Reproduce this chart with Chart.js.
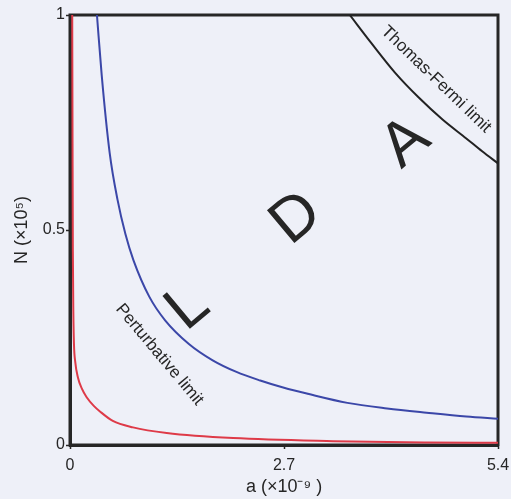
<!DOCTYPE html>
<html>
<head>
<meta charset="utf-8">
<script src="https://cdn.jsdelivr.net/npm/chart.js@4.4.1/dist/chart.umd.min.js"></script>
<style>
  html, body { margin: 0; padding: 0; background: #eef0f8; }
  #regimes { display: block; }
</style>
</head>
<body>
<canvas id="regimes" width="511" height="499"></canvas>
<script>
// a (x10^-9) vs N (x10^5) for the three limiting curves
const perturbA = [0.028, 0.032, 0.036, 0.042, 0.050, 0.065, 0.10, 0.15, 0.21, 0.30, 0.378, 0.54, 0.795, 1.22, 2.06, 3.32, 4.5, 5.4];
const perturbN = [1.00, 0.70, 0.45, 0.31, 0.235, 0.195, 0.157, 0.131, 0.111, 0.091, 0.078, 0.056, 0.041, 0.028, 0.016, 0.009, 0.006, 0.005];

const ldaA = [0.34, 0.40, 0.50, 0.60, 0.70, 0.80, 1.00, 1.20, 1.50, 1.80, 2.10, 2.40, 2.70, 3.00, 3.50, 4.00, 4.50, 5.00, 5.40];
const ldaN = [1.00, 0.86, 0.68, 0.57, 0.49, 0.43, 0.345, 0.29, 0.235, 0.197, 0.17, 0.150, 0.133, 0.119, 0.098, 0.085, 0.075, 0.066, 0.061];

const tfA = [3.53, 3.80, 4.10, 4.40, 4.70, 5.00, 5.20, 5.40];
const tfN = [1.00, 0.935, 0.866, 0.808, 0.757, 0.713, 0.683, 0.655];

const xTicks = [0, 2.7, 5.4];
const yTicks = [0, 0.5, 1];
const xTickLabels = ["0", "2.7", "5.4"];
const yTickLabels = ["0", "0.5", "1"];

const INK = "#262626";
const FONT = "'Liberation Sans', Arial, Helvetica, sans-serif";

const toPoints = (xs, ys) => xs.map((x, i) => ({ x, y: ys[i] }));

const curve = (data, color) => ({
  data,
  borderColor: color,
  backgroundColor: color,
  borderWidth: 2,
  pointRadius: 0,
  showLine: true,
  cubicInterpolationMode: "monotone",
});

// region letters and curve names, placed in data coordinates
const notes = [
  { text: "L", a: 1.49, n: 0.319, rot: -40, size: 62 },
  { text: "D", a: 2.86, n: 0.526, rot: -40, size: 62 },
  { text: "A", a: 4.24, n: 0.702, rot: -40, size: 62 },
  { text: "Thomas-Fermi limit", a: 4.62, n: 0.85, rot: 44, size: 17 },
  { text: "Perturbative limit", a: 1.13, n: 0.21, rot: 50, size: 17 },
];

const framePlugin = {
  id: "frame",
  beforeDatasetsDraw(chart) {
    const { ctx, chartArea: ca } = chart;
    ctx.save();
    ctx.strokeStyle = INK;
    ctx.lineWidth = 3;
    ctx.strokeRect(ca.left, ca.top, ca.right - ca.left, ca.bottom - ca.top);
    ctx.restore();
  },
};

const notesPlugin = {
  id: "notes",
  afterDatasetsDraw(chart) {
    const { ctx, scales } = chart;
    ctx.save();
    ctx.fillStyle = INK;
    ctx.textAlign = "center";
    ctx.textBaseline = "middle";
    notes.forEach((n) => {
      ctx.save();
      ctx.translate(scales.x.getPixelForValue(n.a), scales.y.getPixelForValue(n.n));
      ctx.rotate((n.rot * Math.PI) / 180);
      ctx.font = `${n.size}px ${FONT}`;
      ctx.fillText(n.text, 0, 0);
      ctx.restore();
    });
    ctx.restore();
  },
};

const axisCommon = {
  type: "linear",
  border: { display: true, color: INK, width: 3 },
  grid: { drawOnChartArea: false, drawTicks: true, tickLength: 4, color: INK, tickWidth: 1.5 },
};

new Chart(document.getElementById("regimes"), {
  type: "scatter",
  data: {
    datasets: [
      curve(toPoints(tfA, tfN), "#222222"),
      curve(toPoints(ldaA, ldaN), "#3b47a8"),
      curve(toPoints(perturbA, perturbN), "#de3a48"),
    ],
  },
  options: {
    responsive: false,
    animation: false,
    layout: { padding: { top: 15, right: 13, left: 0, bottom: 0 } },
    plugins: { legend: { display: false }, tooltip: { enabled: false } },
    scales: {
      x: {
        ...axisCommon,
        min: 0,
        max: 5.4,
        afterBuildTicks: (s) => { s.ticks = xTicks.map((v) => ({ value: v })); },
        // keep the edge labels from shrinking the plot box
        afterFit: (s) => { s.height = 54; s.paddingLeft = 0; s.paddingRight = 0; },
        ticks: {
          color: INK,
          padding: 7,
          maxRotation: 0,
          font: { family: FONT, size: 16 },
          callback: (v) => xTickLabels[xTicks.indexOf(v)],
        },
        title: {
          display: true,
          text: "a (×10⁻⁹ )",
          color: INK,
          font: { family: FONT, size: 18 },
          padding: { top: 0, bottom: 1 },
        },
      },
      y: {
        ...axisCommon,
        min: 0,
        max: 1,
        afterBuildTicks: (s) => { s.ticks = yTicks.map((v) => ({ value: v })); },
        afterFit: (s) => { s.width = 70; s.paddingTop = 0; s.paddingBottom = 0; },
        ticks: {
          color: INK,
          padding: 1,
          font: { family: FONT, size: 16 },
          callback: (v) => yTickLabels[yTicks.indexOf(v)],
        },
        title: {
          display: true,
          text: "N (×10⁵)",
          color: INK,
          font: { family: FONT, size: 18 },
          padding: { top: 11, bottom: 0 },
        },
      },
    },
  },
  plugins: [framePlugin, notesPlugin],
});
</script>
</body>
</html>
